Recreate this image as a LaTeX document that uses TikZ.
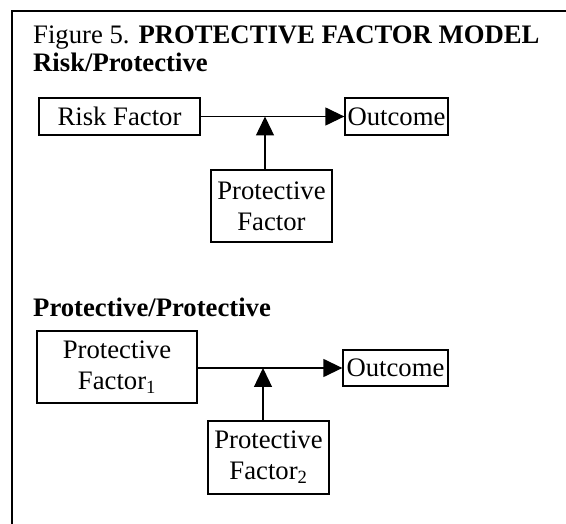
\documentclass[tikz,border=0pt]{standalone}
\usepackage{fontspec}
\setmainfont{Liberation Serif}
\usetikzlibrary{arrows.meta}
\begin{document}
\begin{tikzpicture}[x=1pt,y=-1pt,
  every node/.style={font=\fontsize{26.7}{31}\selectfont},
  boxnode/.style={draw, line width=1.3pt, align=center, inner sep=0pt},
  conn/.style={line width=1.3pt},
  arr/.style={conn, -{Triangle[length=19pt,width=18pt]}},
  frameline/.style={line width=2pt}]
\useasboundingbox (0,0) rectangle (566,524);
% frame
\coordinate (fa) at (12,524);
\coordinate (fb) at (12,11);
\coordinate (fc) at (566,11);
\draw[frameline] (fa) -- (fb) -- (fc);
% titles
\node[anchor=base west, inner sep=0pt] (title) at (33,44) {Figure 5. \textbf{PROTECTIVE FACTOR MODEL}};
\node[anchor=base west, inner sep=0pt] (sub1) at (33,72) {\textbf{Risk/Protective}};
\node[anchor=base west, inner sep=0pt] (sub2) at (33,317) {\textbf{Protective/Protective}};
% top model
\node[boxnode, minimum width=161pt, minimum height=37pt] (risk) at (119.5,116.5) {Risk Factor};
\node[boxnode, minimum width=103pt, minimum height=37pt] (out1) at (396.5,116.5) {Outcome};
\node[boxnode, minimum width=121pt, minimum height=72pt] (pf) at (271.5,206) {Protective\\Factor};
\coordinate (j1) at (265,116.5);
\draw[arr] (risk.east) -- (out1.west);
\draw[arr] (pf.north -| j1) -- (j1);
% bottom model
\node[boxnode, minimum width=160pt, minimum height=72pt] (pf1) at (117,367) {Protective\\Factor\textsubscript{1}};
\node[boxnode, minimum width=105pt, minimum height=36pt] (out2) at (395.5,368) {Outcome};
\node[boxnode, minimum width=121pt, minimum height=73pt] (pf2) at (268.5,457.5) {Protective\\Factor\textsubscript{2}};
\coordinate (j2) at (263,368);
\draw[arr] (pf1.east |- out2.west) -- (out2.west);
\draw[arr] (pf2.north -| j2) -- (j2);
\end{tikzpicture}
\end{document}
